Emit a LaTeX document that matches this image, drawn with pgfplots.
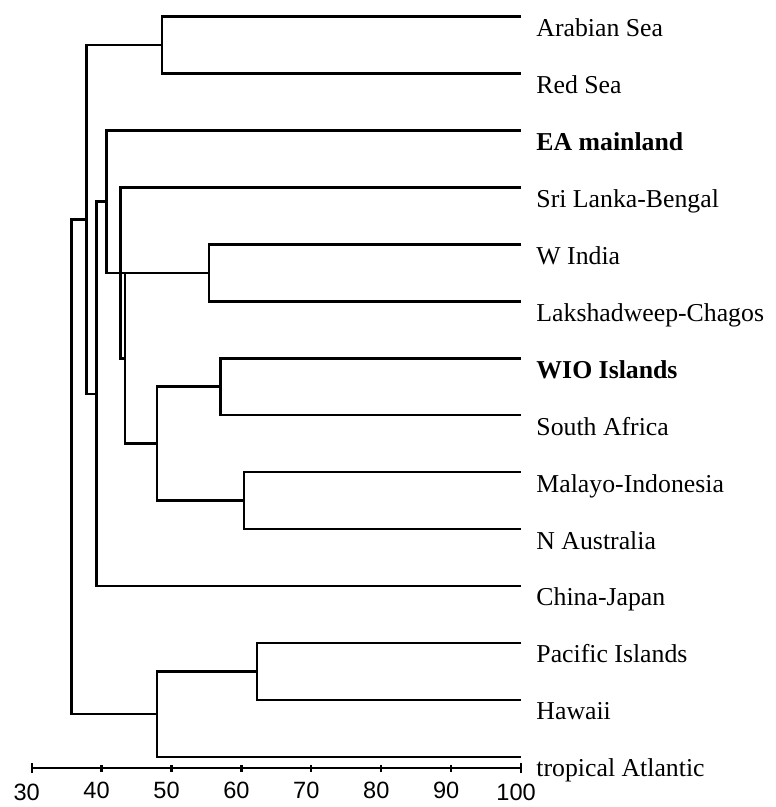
\documentclass[border=0pt]{standalone}
\usepackage{fontspec}
\setmainfont{Liberation Serif}
\newfontfamily\ticksans{Liberation Sans}
\usepackage{pgfplots}
\pgfplotsset{compat=1.18}
\begin{document}
\begin{tikzpicture}
\begin{axis}[
  x=3.5bp, y=28.5bp,
  xmin=30, xmax=100, ymin=-0.198, ymax=13.3,
  axis x line=bottom, axis y line=none,
  x axis line style={-, line width=1.25bp},
  xtick={40,50,...,90},
  extra x ticks={30,100},
  extra x tick style={major tick length=5bp},
  major tick length=3.5bp,
  tick align=center,
  tick style={black, line width=1.1bp},
  xticklabel style={font=\ticksans\fontsize{11.8bp}{13bp}\selectfont, anchor=center, yshift=-9.5bp, xshift=-2.5bp},
  /pgf/number format/assume math mode=true,
  clip=false, no marks,
  cycle list={{black, solid}},
  every axis plot/.append style={black, solid, line width=1.25bp, line join=miter},
]
% leaf pairs
\addplot coordinates {(100,13) (48.66,13) (48.66,12) (100,12)};
\addplot coordinates {(100,9) (55.37,9) (55.37,8) (100,8)};
\addplot coordinates {(100,7) (57.04,7) (57.04,6) (100,6)};
\addplot coordinates {(100,5) (60.37,5) (60.37,4) (100,4)};
\addplot coordinates {(100,2) (62.23,2) (62.23,1) (100,1)};
% internal nodes
\addplot coordinates {(57.04,6.5) (47.9,6.5) (47.9,4.5) (60.37,4.5)};
\addplot coordinates {(55.37,8.5) (43.33,8.5) (43.33,5.5) (47.9,5.5)};
\addplot coordinates {(100,10) (42.71,10) (42.71,7) (43.33,7)};
\addplot coordinates {(100,11) (40.71,11) (40.71,8.5) (43.33,8.5)};
\addplot coordinates {(40.71,9.75) (39.29,9.75) (39.29,3) (100,3)};
\addplot coordinates {(48.66,12.5) (37.86,12.5) (37.86,6.375) (39.29,6.375)};
\addplot coordinates {(62.23,1.5) (47.94,1.5) (47.94,0) (100,0)};
\addplot coordinates {(37.86,9.4375) (35.71,9.4375) (35.71,0.75) (47.94,0.75)};
% labels
\tikzset{leaf/.style={anchor=base west, inner sep=0pt, xshift=7.5bp, yshift=-10bp, font=\fontsize{12.9bp}{14bp}\selectfont}}
\node[leaf] at (axis cs:100,13) {Arabian Sea};
\node[leaf] at (axis cs:100,12) {Red Sea};
\node[leaf] at (axis cs:100,11) {\textbf{EA mainland}};
\node[leaf] at (axis cs:100,10) {Sri Lanka-Bengal};
\node[leaf] at (axis cs:100,9) {W India};
\node[leaf] at (axis cs:100,8) {Lakshadweep-Chagos};
\node[leaf] at (axis cs:100,7) {\textbf{WIO Islands}};
\node[leaf] at (axis cs:100,6) {South Africa};
\node[leaf] at (axis cs:100,5) {Malayo-Indonesia};
\node[leaf] at (axis cs:100,4) {N Australia};
\node[leaf] at (axis cs:100,3) {China-Japan};
\node[leaf] at (axis cs:100,2) {Pacific Islands};
\node[leaf] at (axis cs:100,1) {Hawaii};
\node[leaf] at (axis cs:100,0) {tropical Atlantic};
\path (axis cs:25.47,-0.865) rectangle (axis cs:136.33,13.293);
\end{axis}
\end{tikzpicture}
\end{document}
